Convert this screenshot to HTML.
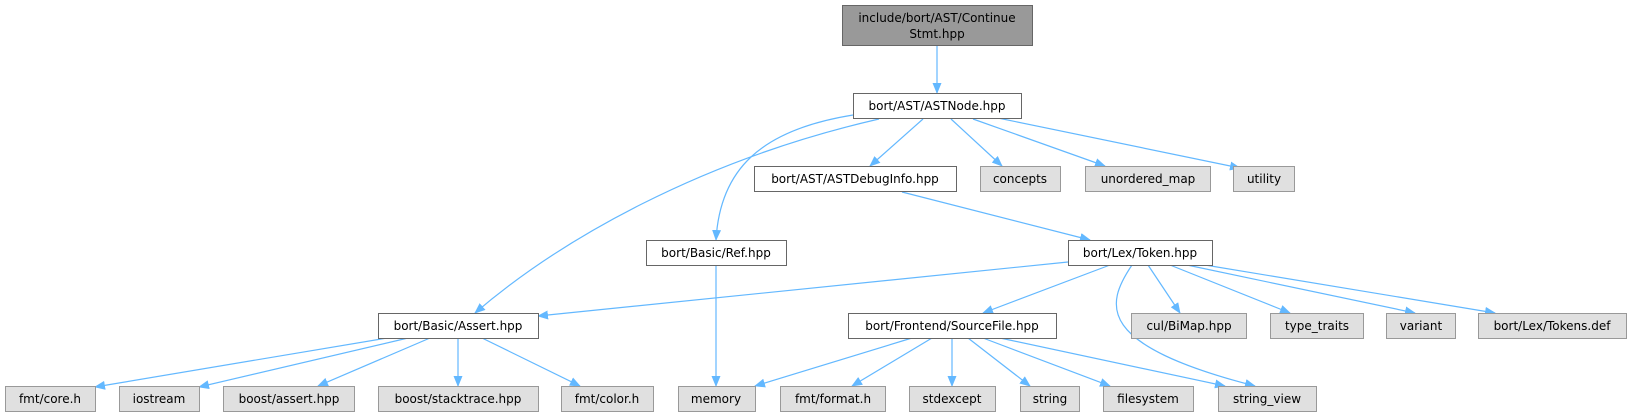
<!DOCTYPE html>
<html><head><meta charset="utf-8"><style>
html,body{margin:0;padding:0;background:#fff;}
svg{display:block;}
text{font-family:"DejaVu Sans","Liberation Sans",sans-serif;font-size:12px;fill:#000;text-anchor:middle;}
.w{fill:#fff;stroke:#666;stroke-width:1;}
.g{fill:#e0e0e0;stroke:#999;stroke-width:1;}
.t{fill:#999;stroke:#666;stroke-width:1;}
.e{fill:none;stroke:#63b8ff;stroke-width:1.2;marker-end:url(#a);}
</style></head><body>
<svg width="1632" height="417" viewBox="0 0 1632 417" xmlns="http://www.w3.org/2000/svg">
<defs><marker id="a" markerWidth="11" markerHeight="9" refX="10" refY="4.5" orient="auto" markerUnits="userSpaceOnUse"><path d="M0,0 L11,4.5 L0,9 z" fill="#63b8ff"/></marker></defs>
<path class="e" d="M937,45 L937,93"/>
<path class="e" d="M853,115 C760,130 720,170 716,240"/>
<path class="e" d="M879,119 C700,160 560,240 475,313"/>
<path class="e" d="M923,119 L870,166"/>
<path class="e" d="M951,119 L1002,166"/>
<path class="e" d="M973,119 L1105,166"/>
<path class="e" d="M998,118 L1240,168"/>
<path class="e" d="M716,265 L716,386"/>
<path class="e" d="M902,192 L1090,240"/>
<path class="e" d="M1068,262 L538,316"/>
<path class="e" d="M1110,265 L983,313"/>
<path class="e" d="M1132,265 C1105,305 1095,345 1255,386"/>
<path class="e" d="M1148,265 L1180,313"/>
<path class="e" d="M1170,265 L1290,313"/>
<path class="e" d="M1187,265 L1415,313"/>
<path class="e" d="M1205,265 L1495,313"/>
<path class="e" d="M387,338 L95,387"/>
<path class="e" d="M408,338 L199,387"/>
<path class="e" d="M430,338 L318,386"/>
<path class="e" d="M458,338 L458,386"/>
<path class="e" d="M482,338 L580,386"/>
<path class="e" d="M912,338 L755,386"/>
<path class="e" d="M932,338 L852,386"/>
<path class="e" d="M952,338 L952,386"/>
<path class="e" d="M968,338 L1030,386"/>
<path class="e" d="M983,338 L1110,386"/>
<path class="e" d="M1000,338 L1225,386"/>
<rect class="t" x="842.5" y="5.5" width="190" height="40"/>
<text x="937" y="22">include/bort/AST/Continue</text><text x="937" y="38">Stmt.hpp</text>
<rect class="w" x="853.5" y="93.5" width="168" height="25"/><text x="937" y="110">bort/AST/ASTNode.hpp</text>
<rect class="w" x="754.5" y="166.5" width="202" height="25"/><text x="855" y="183">bort/AST/ASTDebugInfo.hpp</text>
<rect class="g" x="980.5" y="166.5" width="80" height="25"/><text x="1020" y="183">concepts</text>
<rect class="g" x="1085.5" y="166.5" width="125" height="25"/><text x="1148" y="183">unordered_map</text>
<rect class="g" x="1233.5" y="166.5" width="61" height="25"/><text x="1264" y="183">utility</text>
<rect class="w" x="646.5" y="240.5" width="140" height="25"/><text x="716" y="257">bort/Basic/Ref.hpp</text>
<rect class="w" x="1068.5" y="240.5" width="144" height="25"/><text x="1140" y="257">bort/Lex/Token.hpp</text>
<rect class="w" x="378.5" y="313.5" width="160" height="25"/><text x="458" y="330">bort/Basic/Assert.hpp</text>
<rect class="w" x="848.5" y="313.5" width="208" height="25"/><text x="952" y="330">bort/Frontend/SourceFile.hpp</text>
<rect class="g" x="1131.5" y="313.5" width="115" height="25"/><text x="1189" y="330">cul/BiMap.hpp</text>
<rect class="g" x="1270.5" y="313.5" width="93" height="25"/><text x="1317" y="330">type_traits</text>
<rect class="g" x="1386.5" y="313.5" width="69" height="25"/><text x="1421" y="330">variant</text>
<rect class="g" x="1478.5" y="313.5" width="148" height="25"/><text x="1552" y="330">bort/Lex/Tokens.def</text>
<rect class="g" x="5.5" y="386.5" width="90" height="25"/><text x="50" y="403">fmt/core.h</text>
<rect class="g" x="119.5" y="386.5" width="80" height="25"/><text x="159" y="403">iostream</text>
<rect class="g" x="223.5" y="386.5" width="131" height="25"/><text x="289" y="403">boost/assert.hpp</text>
<rect class="g" x="378.5" y="386.5" width="160" height="25"/><text x="458" y="403">boost/stacktrace.hpp</text>
<rect class="g" x="561.5" y="386.5" width="92" height="25"/><text x="607" y="403">fmt/color.h</text>
<rect class="g" x="678.5" y="386.5" width="77" height="25"/><text x="716" y="403">memory</text>
<rect class="g" x="780.5" y="386.5" width="105" height="25"/><text x="833" y="403">fmt/format.h</text>
<rect class="g" x="909.5" y="386.5" width="86" height="25"/><text x="952" y="403">stdexcept</text>
<rect class="g" x="1020.5" y="386.5" width="59" height="25"/><text x="1050" y="403">string</text>
<rect class="g" x="1103.5" y="386.5" width="90" height="25"/><text x="1148" y="403">filesystem</text>
<rect class="g" x="1218.5" y="386.5" width="98" height="25"/><text x="1267" y="403">string_view</text>
</svg>
</body></html>
